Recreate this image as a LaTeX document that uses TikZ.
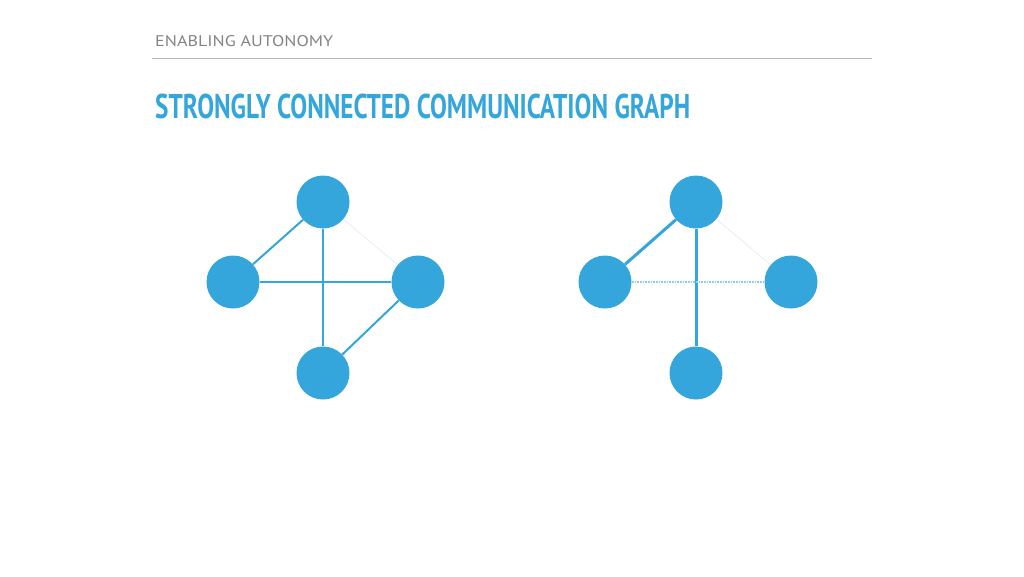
\documentclass[tikz,border=0pt]{standalone}
\usepackage{fontspec}
\setmainfont{PT Sans}
\usepackage{graphicx}
\definecolor{nodeblue}{HTML}{35A6DC}
\definecolor{headgray}{HTML}{858585}
\definecolor{rulegray}{HTML}{B4B4B4}
\definecolor{faintline}{HTML}{E2EBF0}
\definecolor{dotblue}{HTML}{8FCBEB}
\begin{document}
\begin{tikzpicture}[x=1pt,y=-1pt,
  vertex/.style={circle,fill=nodeblue,minimum size=53pt,inner sep=0pt},
  edge/.style={draw=nodeblue,line width=2pt},
  thickedge/.style={draw=nodeblue,line width=3pt},
  faintedge/.style={draw=faintline,line width=0.6pt},
  dotedge/.style={draw=dotblue,line width=1.3pt,dash pattern=on 1pt off 0.6pt}]
\useasboundingbox[fill=white] (0,0) rectangle (1024,576);
% header
\node[anchor=south west,inner sep=0pt,text=headgray] (hdr) at (155,47)
  {\resizebox{178pt}{11pt}{ENABLING AUTONOMY}};
\coordinate (rl) at (152,58);
\coordinate (rr) at (872,58);
\draw[rulegray,line width=1pt] (rl) -- (rr);
\node[anchor=south west,inner sep=0pt,text=nodeblue] (title) at (155,119.5)
  {\resizebox{535pt}{24.5pt}{\bfseries STRONGLY CONNECTED COMMUNICATION GRAPH}};
% left graph
\node[vertex] (a1) at (323,202) {};
\node[vertex] (b1) at (233,282) {};
\node[vertex] (c1) at (418,282) {};
\node[vertex] (d1) at (323,373) {};
% right graph
\node[vertex] (a2) at (696,202) {};
\node[vertex] (b2) at (605,282) {};
\node[vertex] (c2) at (791,282) {};
\node[vertex] (d2) at (696,373) {};
% edges left
\draw[faintedge] (a1) -- (c1);
\draw[edge] (a1) -- (b1);
\draw[edge] (a1) -- (d1);
\draw[edge] (b1) -- (c1);
\draw[edge] (c1) -- (d1);
% edges right
\draw[faintedge] (a2) -- (c2);
\draw[thickedge] (a2) -- (b2);
\draw[thickedge] (a2) -- (d2);
\draw[dotedge] (b2) -- (c2);
\end{tikzpicture}
\end{document}
